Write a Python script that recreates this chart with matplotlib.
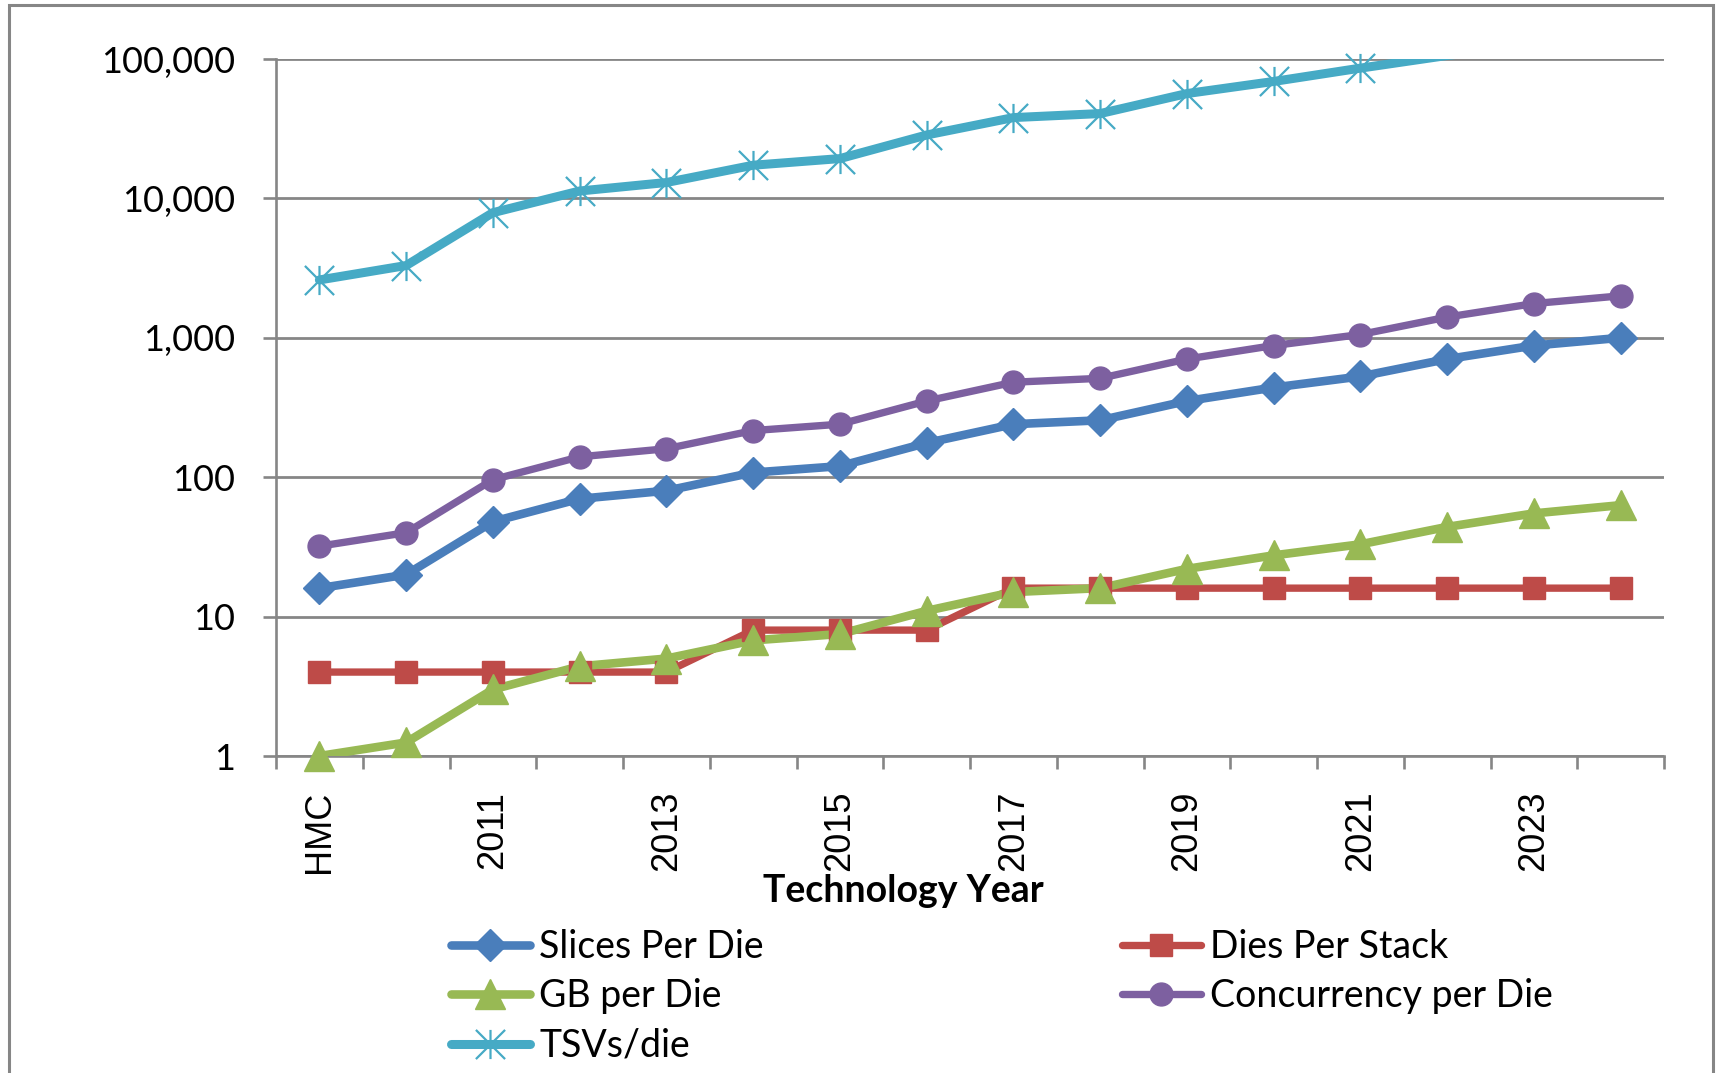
import numpy as np
import matplotlib.pyplot as plt
from matplotlib.path import Path
from matplotlib.lines import Line2D
from matplotlib.patches import Rectangle
from matplotlib.ticker import FixedLocator, FuncFormatter, NullLocator

# technology roadmap per die / per stack
years = ["HMC", "2010", "2011", "2012", "2013", "2014", "2015", "2016",
         "2017", "2018", "2019", "2020", "2021", "2022", "2023", "2024"]
slices_per_die = [16, 20, 48, 70, 80, 108, 120, 176, 240, 256, 352, 440,
                  528, 704, 880, 1000]
dies_per_stack = [4, 4, 4, 4, 4, 8, 8, 8, 16, 16, 16, 16, 16, 16, 16, 16]
gb_per_die = [1, 1.25, 3, 4.4, 5, 6.75, 7.5, 11, 15, 16, 22, 27.5, 33, 44,
              55, 63]
concurrency_per_die = [32, 40, 96, 140, 160, 216, 240, 352, 480, 512, 704,
                       880, 1056, 1408, 1760, 2000]
tsvs_per_die = [2600, 3300, 7900, 11300, 13000, 17300, 19300, 28500, 38000,
                40600, 56500, 69000, 86000, 106000, 125000, 150000]

GRID = "#868686"
BLUE = "#4a7ebb"
RED = "#be4b48"
GREEN = "#98b954"
PURPLE = "#7d60a0"
CYAN = "#46aac5"

# excel style star: an X plus a vertical bar
star = Path([(-1, -1), (1, 1), (-1, 1), (1, -1), (0, -1), (0, 1)],
            [Path.MOVETO, Path.LINETO, Path.MOVETO, Path.LINETO,
             Path.MOVETO, Path.LINETO])

plt.rcParams['font.family'] = ['Lato', 'DejaVu Sans']

fig = plt.figure(figsize=(17.19, 10.73), dpi=100)
ax = fig.add_axes([276 / 1719, 1 - 756 / 1073, 1388 / 1719, 697 / 1073])

x = np.arange(len(years)) + 0.5
ymax = 1e5

series = [
    ("Slices Per Die", slices_per_die, BLUE, "D", 16, 6.2, 1),
    ("Dies Per Stack", dies_per_stack, RED, "s", 16.5, 5.3, 1),
    ("GB per Die", gb_per_die, GREEN, "^", 22, 6.2, 1),
    ("Concurrency per Die", concurrency_per_die, PURPLE, "o", 16.5, 5.3, 1),
    ("TSVs/die", tsvs_per_die, CYAN, star, 21, 6.5, 1.6),
]

handles = {}
for name, vals, col, mk, ms, lw, mew in series:
    vals = np.array(vals, dtype=float)
    ax.plot(x, vals, color=col, lw=lw, solid_joinstyle="round",
            solid_capstyle="round", zorder=3)
    vis = vals <= ymax
    ax.plot(x[vis], vals[vis], ls="none", marker=mk, ms=ms, color=col,
            mec=col, mew=mew, clip_on=False, zorder=4)
    handles[name] = Line2D([], [], color=col, lw=lw, marker=mk, ms=ms,
                           mec=col, mew=mew, solid_capstyle="round")

ax.set_yscale("log")
ax.set_ylim(1, ymax)
ax.set_xlim(0, len(years))
ax.set_axisbelow(True)

ax.yaxis.set_major_locator(FixedLocator([1, 10, 100, 1000, 10000, 100000]))
ax.yaxis.set_minor_locator(NullLocator())
ax.yaxis.set_major_formatter(FuncFormatter(lambda v, p: f"{v:,.0f}"))
ax.grid(axis="y", color=GRID, lw=2.0)

ax.xaxis.set_major_locator(FixedLocator(np.arange(len(years) + 1)))
ax.xaxis.set_major_formatter(FuncFormatter(lambda v, p: ""))
ax.xaxis.set_minor_locator(FixedLocator(x[::2]))
ax.set_xticklabels(years[::2], minor=True, rotation=90, va="top",
                   ha="center", family="Liberation Sans", fontsize=26)

ax.tick_params(axis="y", which="major", length=9.5, width=1.9, color=GRID,
               pad=20, labelsize=26)
ax.tick_params(axis="x", which="major", length=9.5, width=1.9, color=GRID)
ax.tick_params(axis="x", which="minor", length=0, pad=25)

for s in ["top", "right"]:
    ax.spines[s].set_visible(False)
for s in ["left", "bottom"]:
    ax.spines[s].set_color(GRID)
    ax.spines[s].set_linewidth(1.9)

fig.text(903 / 1719, 1 - 902 / 1073, "Technology Year", ha="center",
         va="baseline", fontsize=27, fontweight="bold")

leg_kw = dict(loc="upper left", frameon=False, borderpad=0,
              borderaxespad=0, fontsize=27, handlelength=2.1,
              handletextpad=0.25, labelspacing=0.36, numpoints=1)
left_names = ["Slices Per Die", "GB per Die", "TSVs/die"]
right_names = ["Dies Per Stack", "Concurrency per Die"]
fig.legend([handles[n] for n in left_names], left_names,
           bbox_to_anchor=(451 / 1719, 1 - 929 / 1073), **leg_kw)
fig.legend([handles[n] for n in right_names], right_names,
           bbox_to_anchor=(1122 / 1719, 1 - 929 / 1073), **leg_kw)

# chart area border
fig.patches.append(Rectangle((9 / 1719, -0.05), 1704 / 1719,
                             1.05 - 5 / 1073, transform=fig.transFigure,
                             fill=False, ec=GRID, lw=2.2))

fig.savefig("out.png", dpi=100)
